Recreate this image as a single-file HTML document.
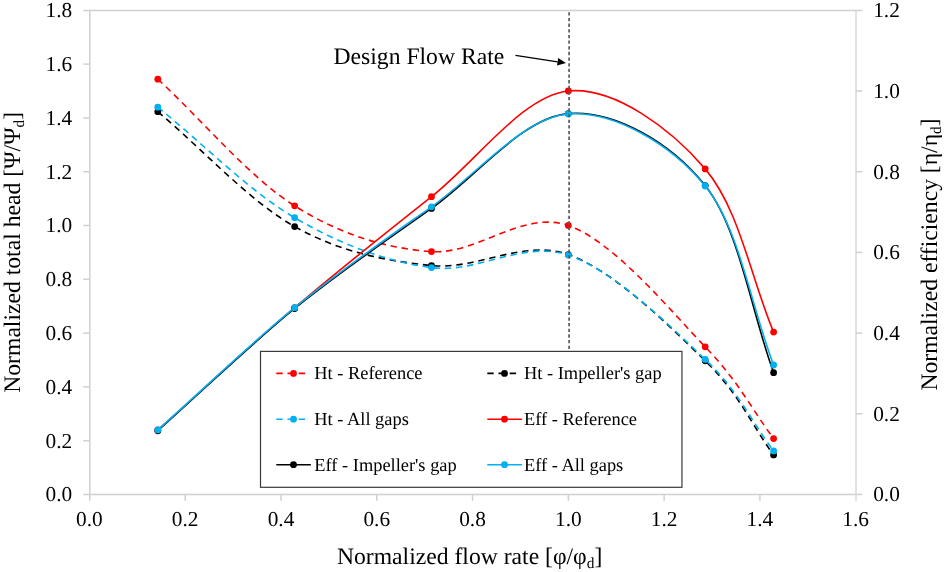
<!DOCTYPE html><html><head><meta charset="utf-8"><style>html,body{margin:0;padding:0;background:#fff;overflow:hidden;}svg{display:block;will-change:transform;}text{font-family:"Liberation Serif", serif;fill:#000;text-rendering:geometricPrecision;}</style></head><body>
<svg width="944" height="572" viewBox="0 0 944 572">
<rect width="944" height="572" fill="#fff"/>
<g stroke="#d0d0d0" stroke-width="1.5" fill="none">
<line x1="83.30" y1="10.40" x2="862.30" y2="10.40"/>
<line x1="83.30" y1="494.50" x2="862.30" y2="494.50"/>
<line x1="89.80" y1="10.40" x2="89.80" y2="500.80"/>
<line x1="856.00" y1="10.40" x2="856.00" y2="500.80" stroke="#d8d8d8"/>
<line x1="83.3" y1="440.70" x2="89.80" y2="440.70"/>
<line x1="83.3" y1="386.90" x2="89.80" y2="386.90"/>
<line x1="83.3" y1="333.10" x2="89.80" y2="333.10"/>
<line x1="83.3" y1="279.30" x2="89.80" y2="279.30"/>
<line x1="83.3" y1="225.50" x2="89.80" y2="225.50"/>
<line x1="83.3" y1="171.70" x2="89.80" y2="171.70"/>
<line x1="83.3" y1="117.90" x2="89.80" y2="117.90"/>
<line x1="83.3" y1="64.10" x2="89.80" y2="64.10"/>
<line x1="856.00" y1="413.80" x2="862.3" y2="413.80"/>
<line x1="856.00" y1="333.10" x2="862.3" y2="333.10"/>
<line x1="856.00" y1="252.40" x2="862.3" y2="252.40"/>
<line x1="856.00" y1="171.70" x2="862.3" y2="171.70"/>
<line x1="856.00" y1="91.00" x2="862.3" y2="91.00"/>
<line x1="185.19" y1="494.50" x2="185.19" y2="500.80"/>
<line x1="280.98" y1="494.50" x2="280.98" y2="500.80"/>
<line x1="376.76" y1="494.50" x2="376.76" y2="500.80"/>
<line x1="472.55" y1="494.50" x2="472.55" y2="500.80"/>
<line x1="568.34" y1="494.50" x2="568.34" y2="500.80"/>
<line x1="664.13" y1="494.50" x2="664.13" y2="500.80"/>
<line x1="759.91" y1="494.50" x2="759.91" y2="500.80"/>
</g>
<text x="72.2" y="501.40" font-size="21.33" text-anchor="end">0.0</text>
<text x="72.2" y="447.60" font-size="21.33" text-anchor="end">0.2</text>
<text x="72.2" y="393.80" font-size="21.33" text-anchor="end">0.4</text>
<text x="72.2" y="340.00" font-size="21.33" text-anchor="end">0.6</text>
<text x="72.2" y="286.20" font-size="21.33" text-anchor="end">0.8</text>
<text x="72.2" y="232.40" font-size="21.33" text-anchor="end">1.0</text>
<text x="72.2" y="178.60" font-size="21.33" text-anchor="end">1.2</text>
<text x="72.2" y="124.80" font-size="21.33" text-anchor="end">1.4</text>
<text x="72.2" y="71.00" font-size="21.33" text-anchor="end">1.6</text>
<text x="72.2" y="17.20" font-size="21.33" text-anchor="end">1.8</text>
<text x="873.2" y="501.40" font-size="21.33" text-anchor="start">0.0</text>
<text x="873.2" y="420.70" font-size="21.33" text-anchor="start">0.2</text>
<text x="873.2" y="340.00" font-size="21.33" text-anchor="start">0.4</text>
<text x="873.2" y="259.30" font-size="21.33" text-anchor="start">0.6</text>
<text x="873.2" y="178.60" font-size="21.33" text-anchor="start">0.8</text>
<text x="873.2" y="97.90" font-size="21.33" text-anchor="start">1.0</text>
<text x="873.2" y="17.20" font-size="21.33" text-anchor="start">1.2</text>
<text x="89.40" y="525.6" font-size="21.33" text-anchor="middle">0.0</text>
<text x="185.19" y="525.6" font-size="21.33" text-anchor="middle">0.2</text>
<text x="280.98" y="525.6" font-size="21.33" text-anchor="middle">0.4</text>
<text x="376.76" y="525.6" font-size="21.33" text-anchor="middle">0.6</text>
<text x="472.55" y="525.6" font-size="21.33" text-anchor="middle">0.8</text>
<text x="568.34" y="525.6" font-size="21.33" text-anchor="middle">1.0</text>
<text x="664.13" y="525.6" font-size="21.33" text-anchor="middle">1.2</text>
<text x="759.91" y="525.6" font-size="21.33" text-anchor="middle">1.4</text>
<text x="855.70" y="525.6" font-size="21.33" text-anchor="middle">1.6</text>
<path d="M157.82,79.16 C203.43,121.40 249.05,177.12 294.66,205.86 C340.27,234.60 385.89,248.32 431.50,251.59 C477.11,254.87 522.72,209.63 568.34,225.50 C613.95,241.37 670.97,311.31 705.18,346.82 C739.39,382.33 750.79,407.97 773.60,438.55" fill="none" stroke="#FF0000" stroke-width="1.60" stroke-dasharray="6.4,4.8"/>
<circle cx="157.82" cy="79.16" r="3.40" fill="#FF0000"/>
<circle cx="294.66" cy="205.86" r="3.40" fill="#FF0000"/>
<circle cx="431.50" cy="251.59" r="3.40" fill="#FF0000"/>
<circle cx="568.34" cy="225.50" r="3.40" fill="#FF0000"/>
<circle cx="705.18" cy="346.82" r="3.40" fill="#FF0000"/>
<circle cx="773.60" cy="438.55" r="3.40" fill="#FF0000"/>
<path d="M157.82,111.71 C203.43,150.00 249.05,200.93 294.66,226.58 C340.27,252.22 385.89,260.92 431.50,265.58 C477.11,270.24 522.72,238.68 568.34,254.55 C613.95,270.42 670.97,327.41 705.18,360.81 C739.39,394.21 750.79,423.57 773.60,454.96" fill="none" stroke="#000000" stroke-width="1.60" stroke-dasharray="6.4,4.8"/>
<circle cx="157.82" cy="111.71" r="3.40" fill="#000000"/>
<circle cx="294.66" cy="226.58" r="3.40" fill="#000000"/>
<circle cx="431.50" cy="265.58" r="3.40" fill="#000000"/>
<circle cx="568.34" cy="254.55" r="3.40" fill="#000000"/>
<circle cx="705.18" cy="360.81" r="3.40" fill="#000000"/>
<circle cx="773.60" cy="454.96" r="3.40" fill="#000000"/>
<path d="M157.82,107.14 C203.43,143.99 249.05,190.96 294.66,217.70 C340.27,244.44 385.89,261.37 431.50,267.60 C477.11,273.83 522.72,239.78 568.34,255.09 C613.95,270.40 670.97,326.82 705.18,359.46 C739.39,392.10 750.79,420.44 773.60,450.92" fill="none" stroke="#00B0F0" stroke-width="1.60" stroke-dasharray="6.4,4.8"/>
<circle cx="157.82" cy="107.14" r="3.40" fill="#00B0F0"/>
<circle cx="294.66" cy="217.70" r="3.40" fill="#00B0F0"/>
<circle cx="431.50" cy="267.60" r="3.40" fill="#00B0F0"/>
<circle cx="568.34" cy="255.09" r="3.40" fill="#00B0F0"/>
<circle cx="705.18" cy="359.46" r="3.40" fill="#00B0F0"/>
<circle cx="773.60" cy="450.92" r="3.40" fill="#00B0F0"/>
<path d="M157.82,429.94 C203.43,389.19 249.05,346.55 294.66,307.68 C340.27,268.81 385.89,232.83 431.50,196.72 C477.11,160.60 522.72,95.64 568.34,91.00 C613.95,86.36 670.97,128.69 705.18,168.88 C739.39,209.06 750.79,277.69 773.60,332.09" fill="none" stroke="#FF0000" stroke-width="1.60"/>
<circle cx="157.82" cy="429.94" r="3.40" fill="#FF0000"/>
<circle cx="294.66" cy="307.68" r="3.40" fill="#FF0000"/>
<circle cx="431.50" cy="196.72" r="3.40" fill="#FF0000"/>
<circle cx="568.34" cy="91.00" r="3.40" fill="#FF0000"/>
<circle cx="705.18" cy="168.88" r="3.40" fill="#FF0000"/>
<circle cx="773.60" cy="332.09" r="3.40" fill="#FF0000"/>
<path d="M157.82,430.75 C203.43,389.99 249.05,345.54 294.66,308.49 C340.27,271.43 385.89,240.90 431.50,208.42 C477.11,175.94 522.72,117.40 568.34,113.60 C613.95,109.80 670.97,142.45 705.18,185.62 C739.39,228.80 750.79,310.30 773.60,372.64" fill="none" stroke="#000000" stroke-width="1.60"/>
<circle cx="157.82" cy="430.75" r="3.40" fill="#000000"/>
<circle cx="294.66" cy="308.49" r="3.40" fill="#000000"/>
<circle cx="431.50" cy="208.42" r="3.40" fill="#000000"/>
<circle cx="568.34" cy="113.60" r="3.40" fill="#000000"/>
<circle cx="705.18" cy="185.62" r="3.40" fill="#000000"/>
<circle cx="773.60" cy="372.64" r="3.40" fill="#000000"/>
<path d="M157.82,429.94 C203.43,389.19 249.05,344.87 294.66,307.68 C340.27,270.49 385.89,239.08 431.50,206.80 C477.11,174.52 522.72,117.46 568.34,114.00 C613.95,110.54 670.97,144.19 705.18,186.02 C739.39,227.85 750.79,305.33 773.60,364.98" fill="none" stroke="#00B0F0" stroke-width="1.60"/>
<circle cx="157.82" cy="429.94" r="3.40" fill="#00B0F0"/>
<circle cx="294.66" cy="307.68" r="3.40" fill="#00B0F0"/>
<circle cx="431.50" cy="206.80" r="3.40" fill="#00B0F0"/>
<circle cx="568.34" cy="114.00" r="3.40" fill="#00B0F0"/>
<circle cx="705.18" cy="186.02" r="3.40" fill="#00B0F0"/>
<circle cx="773.60" cy="364.98" r="3.40" fill="#00B0F0"/>
<line x1="569.10" y1="12.30" x2="569.10" y2="487.00" stroke="#5a5a5a" stroke-width="1.7" stroke-dasharray="3.3,2.35"/>
<text x="333.5" y="64.1" font-size="23.65">Design Flow Rate</text>
<line x1="515.50" y1="55.40" x2="557.60" y2="61.82" stroke="#000" stroke-width="1.2"/>
<polygon points="566.00,63.10 557.02,65.58 558.17,58.06" fill="#000"/>
<rect x="260.50" y="351.40" width="421.45" height="135.90" fill="#fff" stroke="#3a3a3a" stroke-width="1.2"/>
<line x1="276.30" y1="373.40" x2="309.90" y2="373.40" stroke="#FF0000" stroke-width="1.60" stroke-dasharray="6.4,4.8"/>
<circle cx="293.50" cy="373.40" r="3.40" fill="#FF0000"/>
<text x="314.30" y="379.20" font-size="18.40">Ht - Reference</text>
<line x1="487.30" y1="373.40" x2="520.90" y2="373.40" stroke="#000000" stroke-width="1.60" stroke-dasharray="6.4,4.8"/>
<circle cx="504.50" cy="373.40" r="3.40" fill="#000000"/>
<text x="524.00" y="379.20" font-size="18.40">Ht - Impeller&#39;s gap</text>
<line x1="276.30" y1="419.20" x2="309.90" y2="419.20" stroke="#00B0F0" stroke-width="1.60" stroke-dasharray="6.4,4.8"/>
<circle cx="293.50" cy="419.20" r="3.40" fill="#00B0F0"/>
<text x="314.30" y="425.00" font-size="18.40">Ht - All gaps</text>
<line x1="487.30" y1="419.20" x2="521.90" y2="419.20" stroke="#FF0000" stroke-width="1.60"/>
<circle cx="504.50" cy="419.20" r="3.40" fill="#FF0000"/>
<text x="524.00" y="425.00" font-size="18.40">Eff - Reference</text>
<line x1="276.30" y1="464.70" x2="310.90" y2="464.70" stroke="#000000" stroke-width="1.60"/>
<circle cx="293.50" cy="464.70" r="3.40" fill="#000000"/>
<text x="314.30" y="470.50" font-size="18.40">Eff - Impeller&#39;s gap</text>
<line x1="487.30" y1="464.70" x2="521.90" y2="464.70" stroke="#00B0F0" stroke-width="1.60"/>
<circle cx="504.50" cy="464.70" r="3.40" fill="#00B0F0"/>
<text x="524.00" y="470.50" font-size="18.40">Eff - All gaps</text>
<text x="469.65" y="564.1" font-size="23.65" text-anchor="middle">Normalized flow rate [&#966;/&#966;<tspan font-size="15.37" dy="4">d</tspan><tspan dy="-4">]</tspan></text>
<text transform="translate(19.6,252.35) rotate(-90)" font-size="23.65" text-anchor="middle">Normalized total head [&#936;/&#936;<tspan font-size="15.37" dy="4">d</tspan><tspan dy="-4">]</tspan></text>
<text transform="translate(936.5,254.5) rotate(-90)" font-size="23.65" text-anchor="middle">Normalized efficiency [&#951;/&#951;<tspan font-size="15.37" dy="4">d</tspan><tspan dy="-4">]</tspan></text>
</svg></body></html>
